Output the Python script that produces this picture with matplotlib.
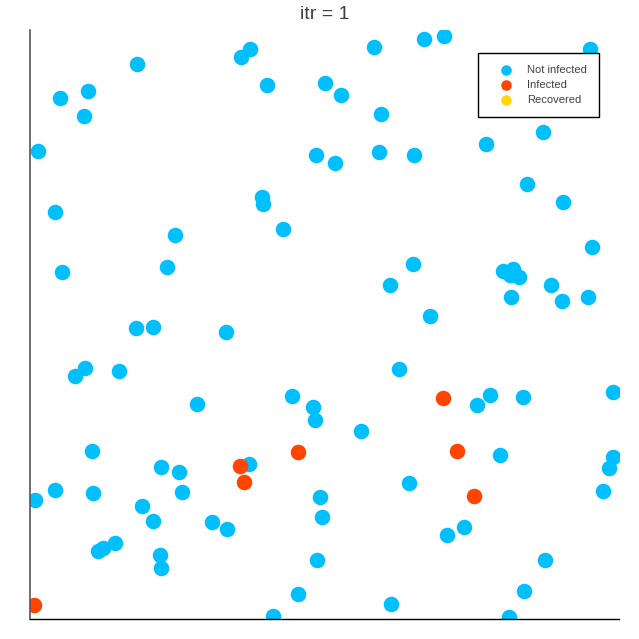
import matplotlib
matplotlib.use("Agg")
import matplotlib.pyplot as plt

plt.rcParams['font.family'] = ['Liberation Sans', 'DejaVu Sans']

# Positions of the not infected individuals
not_infected_x = [0.182, 0.358, 0.374, 0.402, 0.051, 0.098, 0.092, 0.014, 0.584, 0.669,
                  0.703, 0.951, 0.501, 0.528, 0.596, 0.486, 0.518, 0.593, 0.652, 0.866,
                  0.871, 0.774, 0.844, 0.905, 0.042, 0.394, 0.396, 0.430, 0.246, 0.054,
                  0.233, 0.954, 0.650, 0.611, 0.803, 0.820, 0.815, 0.830, 0.817, 0.885,
                  0.903, 0.947, 0.679, 0.180, 0.209, 0.333, 0.093, 0.076, 0.151, 0.626,
                  0.284, 0.445, 0.480, 0.484, 0.759, 0.781, 0.837, 0.990, 0.562, 0.105,
                  0.222, 0.253, 0.372, 0.798, 0.990, 0.983, 0.042, 0.008, 0.107, 0.258,
                  0.643, 0.492, 0.973, 0.190, 0.209, 0.496, 0.309, 0.334, 0.737, 0.708,
                  0.144, 0.115, 0.124, 0.221, 0.222, 0.487, 0.874, 0.455, 0.839, 0.613,
                  0.413, 0.813]
not_infected_y = [0.942, 0.954, 0.968, 0.907, 0.885, 0.896, 0.854, 0.795, 0.971, 0.985,
                  0.990, 0.968, 0.910, 0.890, 0.857, 0.788, 0.774, 0.793, 0.788, 0.868,
                  0.827, 0.806, 0.739, 0.708, 0.691, 0.716, 0.705, 0.662, 0.652, 0.589,
                  0.598, 0.632, 0.603, 0.567, 0.591, 0.594, 0.584, 0.581, 0.547, 0.567,
                  0.540, 0.547, 0.514, 0.494, 0.496, 0.487, 0.426, 0.413, 0.421, 0.424,
                  0.365, 0.379, 0.360, 0.338, 0.363, 0.380, 0.377, 0.385, 0.319, 0.285,
                  0.258, 0.250, 0.263, 0.278, 0.275, 0.256, 0.219, 0.202, 0.214, 0.216,
                  0.231, 0.207, 0.217, 0.192, 0.166, 0.173, 0.165, 0.153, 0.156, 0.143,
                  0.129, 0.115, 0.121, 0.109, 0.087, 0.100, 0.100, 0.042, 0.048, 0.025,
                  0.005, 0.003]

# Positions of the infected individuals
infected_x = [0.701, 0.725, 0.455, 0.357, 0.363, 0.754, 0.007]
infected_y = [0.375, 0.285, 0.284, 0.260, 0.233, 0.209, 0.024]

# Nobody has recovered yet
recovered_x = []
recovered_y = []

fig = plt.figure(figsize=(6.39, 6.39), dpi=100)
ax = fig.add_axes([30 / 639, 1 - 619 / 639, 589 / 639, 589 / 639])

ax.scatter(not_infected_x, not_infected_y, s=125, color='#00BFFF', linewidths=0, label='Not infected')
ax.scatter(infected_x, infected_y, s=125, color='#FF4500', linewidths=0, label='Infected')
ax.scatter(recovered_x, recovered_y, s=125, color='#FFD700', linewidths=0, label='Recovered')

ax.set_xlim(0, 1)
ax.set_ylim(0, 1)
ax.set_xticks([])
ax.set_yticks([])
ax.spines['top'].set_visible(False)
ax.spines['right'].set_visible(False)
ax.spines['left'].set_color('#555555')
ax.spines['left'].set_linewidth(1.2)
ax.spines['bottom'].set_color('black')
ax.spines['bottom'].set_linewidth(1.0)

ax.set_title('itr = 1', fontsize=14, color='#404040', pad=8)

leg = ax.legend(loc='upper right', bbox_to_anchor=(599 / 639, 1 - 53 / 639),
                bbox_transform=fig.transFigure, borderaxespad=0, fontsize=8,
                markerscale=0.68, frameon=True, fancybox=False, labelspacing=0.42,
                handletextpad=0.4, borderpad=1.1, handlelength=2.9)
leg.get_frame().set_edgecolor('black')
leg.get_frame().set_linewidth(1.0)
leg.get_frame().set_alpha(1)
for t in leg.get_texts():
    t.set_color('#404040')

fig.savefig('out.png', dpi=100)
